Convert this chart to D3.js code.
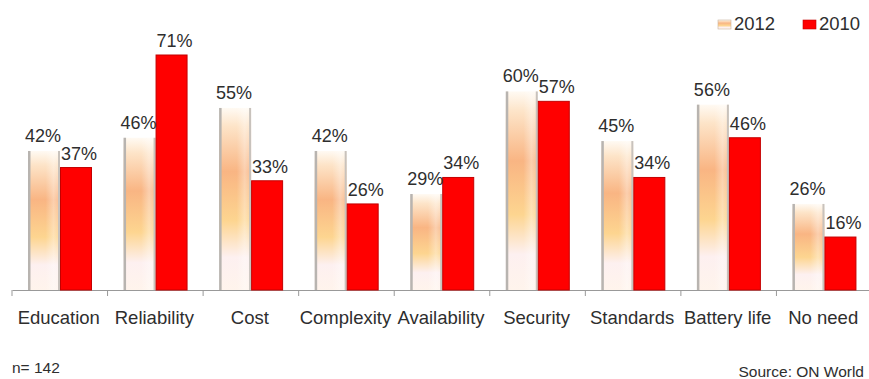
<!DOCTYPE html>
<html>
<head>
<meta charset="utf-8">
<script src="https://cdn.jsdelivr.net/npm/d3@7"></script>
<style>
body{margin:0;background:#fff;}
text{font-family:"Liberation Sans",Arial,sans-serif;fill:#2e2e2e;}
</style>
</head>
<body>
<div id="svgContainer"></div>
<script>
// data
var categories = ["Education","Reliability","Cost","Complexity","Availability","Security","Standards","Battery life","No need"];
var years = ["2012","2010"];
var values2012 = [42,46,55,42,29,60,45,56,26];
var values2010 = [37,71,33,26,34,57,34,46,16];

var svgWidth = 869, svgHeight = 379;
var svg = d3.select("#svgContainer").append("svg")
    .attr("width",svgWidth)
    .attr("height",svgHeight);

var baseY = 290;
var x = d3.scaleBand().domain(categories).range([12,872]);
var x1 = d3.scaleBand().domain(years).range([16,80]);
var y = d3.scaleLinear().domain([0,71]).range([baseY,55]);

var defs = svg.append("defs");
var g12 = defs.append("linearGradient").attr("id","g12")
    .attr("x1",0).attr("y1",0).attr("x2",0).attr("y2",1);
[[0,"#fffaf3"],[0.1,"#fde4c8"],[0.35,"#f9b583"],[0.62,"#fdd590"],[0.82,"#fdf0f0"],[1,"#fff4ec"]]
    .forEach(function(s){ g12.append("stop").attr("offset",s[0]).attr("stop-color",s[1]); });
var gh = defs.append("linearGradient").attr("id","gh")
    .attr("x1",0).attr("y1",0).attr("x2",1).attr("y2",0);
[[0,"#ffffff",0.0],[0.55,"#ffffff",0.0],[0.8,"#ffffff",0.35],[1,"#ffffff",0.1]]
    .forEach(function(s){ gh.append("stop").attr("offset",s[0]).attr("stop-color",s[1]).attr("stop-opacity",s[2]); });

var data = categories.map(function(c,i){ return {cat:c, v12:values2012[i], v10:values2010[i]}; });

// axis
var axis = svg.append("g").attr("transform","translate(0,"+baseY+")")
    .call(d3.axisBottom(x).tickSize(0).tickPadding(0).tickFormat(""));
axis.select(".domain").attr("stroke","#999").attr("stroke-width",1.2);
axis.selectAll(".tk").data(categories.concat([""])).enter().append("line")
    .attr("x1",function(d,i){ return 12+i*x.bandwidth(); })
    .attr("x2",function(d,i){ return 12+i*x.bandwidth(); })
    .attr("y1",0).attr("y2",6).attr("stroke","#999");

var groups = svg.selectAll(".grp").data(data).enter().append("g")
    .attr("class","grp")
    .attr("transform",function(d){ return "translate("+x(d.cat)+",0)"; });

// 2012 bars (cylinder look)
groups.append("rect")
    .attr("x",x1("2012")).attr("width",x1.bandwidth())
    .attr("y",function(d){ return y(d.v12); })
    .attr("height",function(d){ return baseY - y(d.v12); })
    .attr("fill","url(#g12)");
groups.append("rect")
    .attr("x",x1("2012")).attr("width",x1.bandwidth())
    .attr("y",function(d){ return y(d.v12); })
    .attr("height",function(d){ return baseY - y(d.v12); })
    .attr("fill","url(#gh)");
groups.append("rect")
    .attr("x",x1("2012")).attr("width",2.5)
    .attr("y",function(d){ return y(d.v12); })
    .attr("height",function(d){ return baseY - y(d.v12); })
    .attr("fill","#b8b4b0");
groups.append("rect")
    .attr("x",x1("2012")+x1.bandwidth()-2).attr("width",2)
    .attr("y",function(d){ return y(d.v12); })
    .attr("height",function(d){ return baseY - y(d.v12); })
    .attr("fill","#c8c2bc");

// 2010 bars
groups.append("rect")
    .attr("x",x1("2010")+0.5).attr("width",x1.bandwidth()-1)
    .attr("y",function(d){ return y(d.v10); })
    .attr("height",function(d){ return baseY - y(d.v10); })
    .attr("fill","#ff0000")
    .attr("stroke","#c40000").attr("stroke-width",1);

// value labels
groups.append("text")
    .attr("x",x1("2012")+x1.bandwidth()/2-1)
    .attr("y",function(d){ return y(d.v12)-9; })
    .attr("text-anchor","middle").attr("font-size",18)
    .text(function(d){ return d.v12+"%"; });
groups.append("text")
    .attr("x",x1("2010")+x1.bandwidth()/2+3)
    .attr("y",function(d){ return y(d.v10)-8; })
    .attr("text-anchor","middle").attr("font-size",18)
    .text(function(d){ return d.v10+"%"; });

// category labels
groups.append("text")
    .attr("x",x.bandwidth()/2-1)
    .attr("y",324)
    .attr("text-anchor","middle").attr("font-size",18.5)
    .text(function(d){ return d.cat; });

// legend
var legend = svg.append("g");
var legendX = [718,803];
legend.selectAll("rect").data(years).enter().append("rect")
    .attr("x",function(d,i){ return legendX[i]; })
    .attr("y",20).attr("width",13).attr("height",9)
    .attr("fill",function(d,i){ return i==0 ? "url(#g12)" : "#ff0000"; })
    .attr("stroke",function(d,i){ return i==0 ? "#c8b4a0" : "#c40000"; })
    .attr("stroke-width",0.6);
legend.selectAll("text").data(years).enter().append("text")
    .attr("x",function(d,i){ return legendX[i]+16; })
    .attr("y",30).attr("font-size",18.5)
    .text(function(d){ return d; });

svg.append("text").attr("x",12).attr("y",373).attr("font-size",15.5).text("n= 142");
svg.append("text").attr("x",864).attr("y",377).attr("text-anchor","end").attr("font-size",15.5).text("Source: ON World");
</script>
</body>
</html>
